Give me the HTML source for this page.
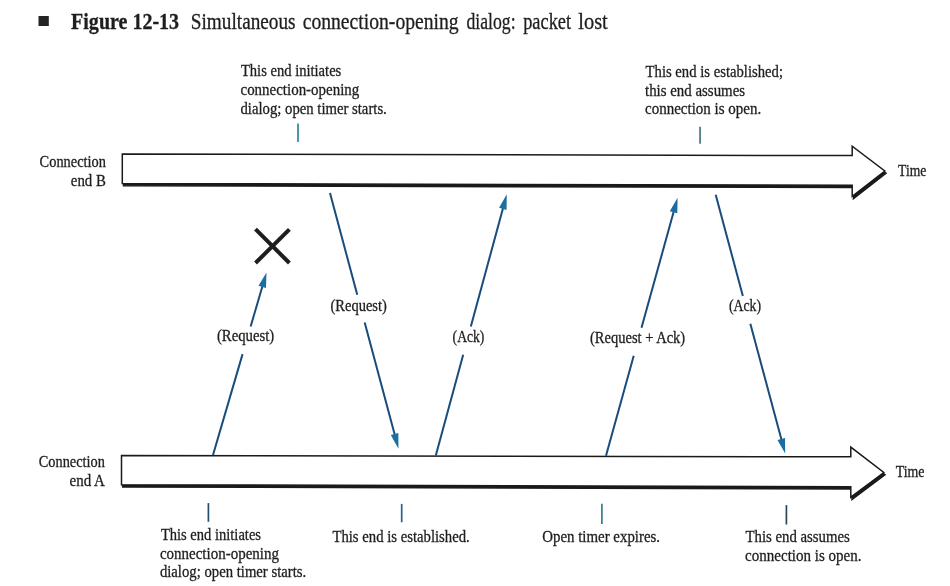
<!DOCTYPE html>
<html>
<head>
<meta charset="utf-8">
<title>Figure 12-13</title>
<style>
html,body{margin:0;padding:0;background:#ffffff;}
body{width:950px;height:586px;overflow:hidden;font-family:"Liberation Serif",serif;}
svg{display:block;will-change:transform;}
text{font-family:"Liberation Serif",serif;fill:#1e1e1e;stroke:#1e1e1e;stroke-width:0.3px;}
.t{font-size:16.5px;}
.h{font-size:23px;}
.ln{stroke:#184c7a;stroke-width:2.0;fill:none;stroke-linecap:butt;}
.hd{fill:#1b6ea1;stroke:none;}
.tk{stroke-width:1.7;fill:none;}
.bar{fill:#ffffff;stroke:#1a1a1a;stroke-width:1.5;stroke-linejoin:miter;}
.shd{fill:#1a1a1a;stroke:#1a1a1a;stroke-width:1.5;stroke-linejoin:miter;}
.x{stroke:#1e1e1e;stroke-width:4;}
</style>
</head>
<body>
<svg width="950" height="586" viewBox="0 0 950 586">
<rect x="0" y="0" width="950" height="586" fill="#ffffff"/>

<!-- Title -->
<rect x="38.5" y="16" width="10.3" height="10" fill="#242424"/>
<text class="h" x="71.1" y="28.5" textLength="108.0" lengthAdjust="spacingAndGlyphs" font-weight="bold">Figure 12-13</text>
<text class="h" x="190.8" y="28.5" textLength="104.8" lengthAdjust="spacingAndGlyphs">Simultaneous</text>
<text class="h" x="302.7" y="28.5" textLength="156.0" lengthAdjust="spacingAndGlyphs">connection-opening</text>
<text class="h" x="466.5" y="28.5" textLength="49.1" lengthAdjust="spacingAndGlyphs">dialog:</text>
<text class="h" x="523.2" y="28.5" textLength="47.9" lengthAdjust="spacingAndGlyphs">packet</text>
<text class="h" x="578.3" y="28.5" textLength="29.5" lengthAdjust="spacingAndGlyphs">lost</text>
<!-- Top annotations -->
<text class="t" x="240.9" y="76.2" textLength="100.4" lengthAdjust="spacingAndGlyphs">This end initiates</text>
<text class="t" x="240.5" y="95.2" textLength="118.8" lengthAdjust="spacingAndGlyphs">connection-opening</text>
<text class="t" x="240.5" y="113.8" textLength="146.3" lengthAdjust="spacingAndGlyphs">dialog; open timer starts.</text>
<line class="tk" stroke="#2f8596" x1="298" y1="123.6" x2="298" y2="142"/>
<text class="t" x="645.6" y="76.8" textLength="137.4" lengthAdjust="spacingAndGlyphs">This end is established;</text>
<text class="t" x="645.0" y="95.7" textLength="100.1" lengthAdjust="spacingAndGlyphs">this end assumes</text>
<text class="t" x="645.0" y="114.1" textLength="116.2" lengthAdjust="spacingAndGlyphs">connection is open.</text>
<line class="tk" stroke="#46728a" x1="700.05" y1="126.7" x2="700.05" y2="143.7"/>
<!-- Bar B -->
<polygon class="shd" points="123.50,156.30 853.40,157.90 853.40,148.50 886.00,173.30 853.40,198.60 853.40,187.60 123.50,185.70"/>
<polygon class="bar" points="122.3,154.0 852.2,155.6 852.2,146.2 884.8,171.0 852.2,196.3 852.2,185.3 122.3,183.4"/>
<text class="t" x="39.6" y="166.8" textLength="66.3" lengthAdjust="spacingAndGlyphs">Connection</text>
<text class="t" x="70.8" y="185.6" textLength="35.1" lengthAdjust="spacingAndGlyphs">end B</text>
<text class="t" x="898.1" y="176.0" textLength="28.3" lengthAdjust="spacingAndGlyphs">Time</text>
<!-- Bar A -->
<polygon class="shd" points="122.70,457.90 852.00,459.10 852.00,449.40 885.00,474.80 852.00,499.50 852.00,489.00 122.70,487.00"/>
<polygon class="bar" points="121.5,455.6 850.8,456.8 850.8,447.1 883.8,472.5 850.8,497.2 850.8,486.7 121.5,484.7"/>
<text class="t" x="38.8" y="467.4" textLength="66.1" lengthAdjust="spacingAndGlyphs">Connection</text>
<text class="t" x="69.5" y="486.3" textLength="35.4" lengthAdjust="spacingAndGlyphs">end A</text>
<text class="t" x="895.7" y="476.7" textLength="28.8" lengthAdjust="spacingAndGlyphs">Time</text>
<!-- X -->
<line class="x" x1="255.5" y1="229.2" x2="289.4" y2="263.0"/>
<line class="x" x1="289.4" y1="229.4" x2="255.5" y2="263.0"/>
<!-- Arrow 1 -->
<line class="ln" x1="213.00" y1="455.00" x2="242.56" y2="354.10"/>
<line class="ln" x1="250.64" y1="326.50" x2="262.80" y2="284.98"/>
<polygon class="hd" points="266.48,272.41 265.98,288.00 258.50,285.81"/>
<text class="t" x="216.9" y="340.5" textLength="57.3" lengthAdjust="spacingAndGlyphs">(Request)</text>
<!-- Arrow 2 -->
<line class="ln" x1="330.00" y1="193.00" x2="357.26" y2="294.80"/>
<line class="ln" x1="364.68" y1="322.50" x2="395.09" y2="436.04"/>
<polygon class="hd" points="398.48,448.69 390.80,435.11 398.34,433.09"/>
<text class="t" x="330.5" y="310.5" textLength="56.3" lengthAdjust="spacingAndGlyphs">(Request)</text>
<!-- Arrow 3 -->
<line class="ln" x1="435.80" y1="455.40" x2="463.18" y2="354.70"/>
<line class="ln" x1="470.84" y1="326.50" x2="503.34" y2="206.95"/>
<polygon class="hd" points="506.78,194.31 506.58,209.90 499.05,207.86"/>
<text class="t" x="452.6" y="342.3" textLength="31.8" lengthAdjust="spacingAndGlyphs">(Ack)</text>
<!-- Arrow 4 -->
<line class="ln" x1="606.00" y1="455.80" x2="633.73" y2="355.80"/>
<line class="ln" x1="641.50" y1="327.80" x2="674.08" y2="210.33"/>
<polygon class="hd" points="677.58,197.71 677.30,213.30 669.79,211.22"/>
<text class="t" x="590.0" y="342.8" textLength="95.2" lengthAdjust="spacingAndGlyphs">(Request + Ack)</text>
<!-- Arrow 5 -->
<line class="ln" x1="715.70" y1="194.80" x2="742.85" y2="295.90"/>
<line class="ln" x1="750.35" y1="323.80" x2="781.78" y2="440.84"/>
<polygon class="hd" points="785.18,453.49 777.49,439.92 785.03,437.89"/>
<text class="t" x="728.9" y="311.0" textLength="32.2" lengthAdjust="spacingAndGlyphs">(Ack)</text>
<!-- Bottom annotations -->
<line class="tk" stroke="#20506e" x1="208.4" y1="503.1" x2="208.4" y2="521.8"/>
<text class="t" x="160.9" y="539.9" textLength="100.1" lengthAdjust="spacingAndGlyphs">This end initiates</text>
<text class="t" x="159.9" y="558.5" textLength="119.1" lengthAdjust="spacingAndGlyphs">connection-opening</text>
<text class="t" x="159.9" y="577.4" textLength="146.3" lengthAdjust="spacingAndGlyphs">dialog; open timer starts.</text>
<line class="tk" stroke="#2a5f8f" x1="401.7" y1="503.9" x2="401.7" y2="522.3"/>
<text class="t" x="332.4" y="542" textLength="137.4" lengthAdjust="spacingAndGlyphs">This end is established.</text>
<line class="tk" stroke="#357f8c" x1="601.9" y1="503.8" x2="601.9" y2="524"/>
<text class="t" x="542.2" y="542.4" textLength="117.9" lengthAdjust="spacingAndGlyphs">Open timer expires.</text>
<line class="tk" stroke="#2a4658" x1="786.4" y1="505.1" x2="786.4" y2="524.5"/>
<text class="t" x="745.5" y="542.4" textLength="104.3" lengthAdjust="spacingAndGlyphs">This end assumes</text>
<text class="t" x="745.1" y="561.3" textLength="116.4" lengthAdjust="spacingAndGlyphs">connection is open.</text>
</svg>
</body>
</html>
